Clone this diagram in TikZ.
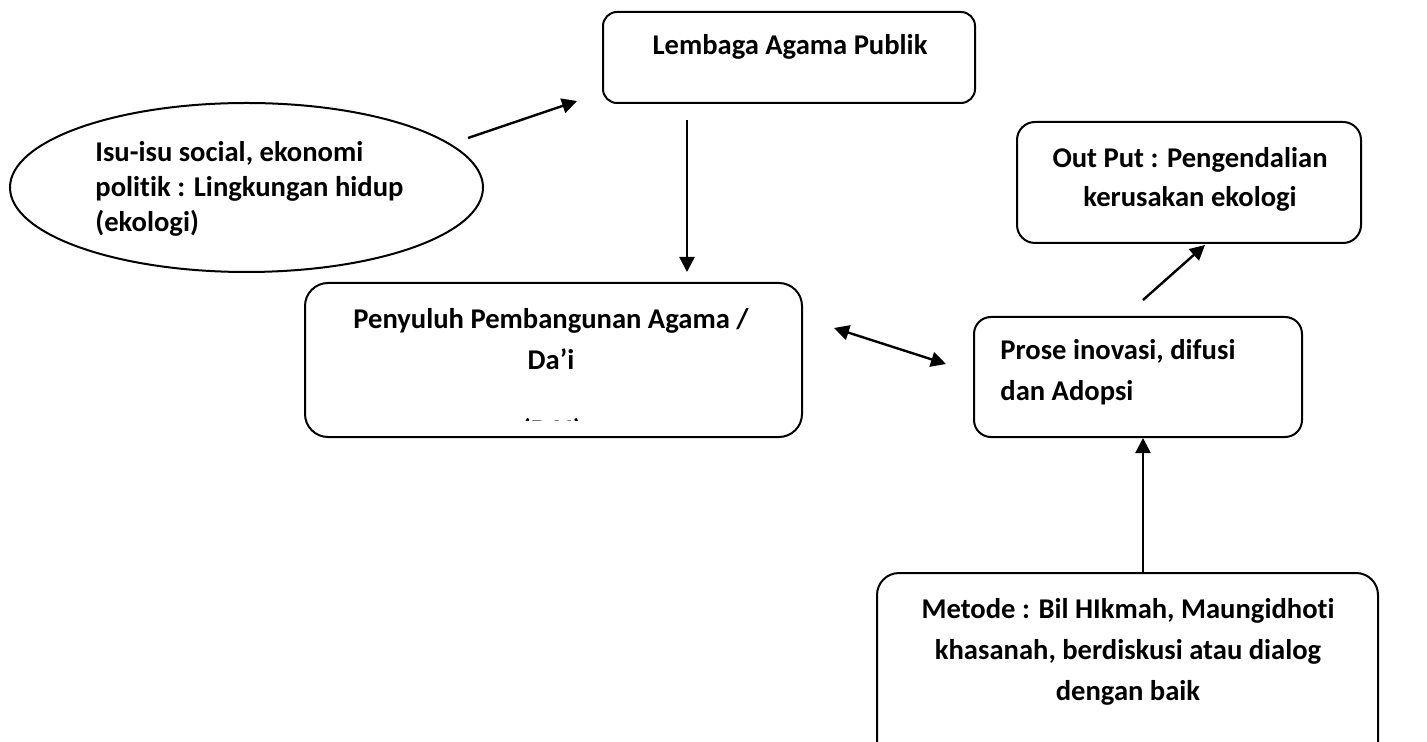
\documentclass[tikz,border=0pt]{standalone}
\usepackage{fontspec}
\setmainfont{Carlito}[Ligatures=NoCommon]
\usetikzlibrary{arrows.meta,shapes.geometric}
\begin{document}
\begin{tikzpicture}[x=0.5pt,y=-0.5pt,
  box/.style={draw=black,line width=1pt,inner sep=0pt},
  lbl/.style={inner sep=0pt,anchor=base,font=\fontsize{14.3}{20.5}\selectfont\bfseries},
  arr/.style={line width=1.2pt,-{Triangle[length=7.5pt,width=7.5pt]}},
  dblarr/.style={line width=1.2pt,{Triangle[length=7.5pt,width=7.5pt]}-{Triangle[length=7.5pt,width=7.5pt]}},
  ]
\useasboundingbox (0,0) rectangle (1427,742);
% boxes
\node[box,rounded corners=7pt,minimum width=186pt,minimum height=45.5pt] (lemb) at (789,57.5) {};
\node[box,ellipse,minimum width=236.5pt,minimum height=84.5pt] (ell) at (246.5,187.5) {};
\node[box,rounded corners=11.5pt,minimum width=248.5pt,minimum height=77pt] (pen) at (553.5,360) {};
\node[box,rounded corners=8.5pt,minimum width=164pt,minimum height=60pt] (pros) at (1138,377) {};
\node[box,rounded corners=9pt,minimum width=172pt,minimum height=60.5pt] (out) at (1189,182.5) {};
\node[box,rounded corners=11pt,minimum width=250.5pt,minimum height=113.5pt] (met) at (1127.5,686.5) {};
% texts
\node[lbl] (lembt) at (790,55) {Lembaga Agama Publik};
\node[lbl,anchor=base west] (ellt) at (95,162) {\fontsize{14.3}{17.5}\selectfont\begin{tabular}[t]{@{}l@{}}Isu-isu social, ekonomi\\ politik : Lingkungan hidup\\ (ekologi)\end{tabular}};
\node[lbl] (pent) at (551,329) {\begin{tabular}[t]{@{}c@{}}Penyuluh Pembangunan Agama /\\ Da’i\end{tabular}};
\begin{scope}
  \clip (306,284) rectangle (801,421);
  \node[lbl] (dai) at (552,439) {(DAI)};
\end{scope}
\node[lbl,anchor=base west] (prost) at (1000,360) {\begin{tabular}[t]{@{}l@{}}Prose inovasi, difusi\\ dan Adopsi\end{tabular}};
\node[lbl] (outt) at (1190,168) {\fontsize{14.3}{19.5}\selectfont\begin{tabular}[t]{@{}c@{}}Out Put : Pengendalian\\ kerusakan ekologi\end{tabular}};
\node[lbl] (mett) at (1128,618) {\begin{tabular}[t]{@{}c@{}}Metode : Bil HIkmah, Maungidhoti\\ khasanah, berdiskusi atau dialog\\ dengan baik\end{tabular}};
% connector end points
\coordinate (e1) at (468,138);
\coordinate (e2) at (577,101);
\coordinate (l1) at (687,120);
\coordinate (l2) at (687,272);
\coordinate (d1) at (834,328);
\coordinate (d2) at (946,364);
\coordinate (p1) at (1143,300);
\coordinate (p2) at (1205,245);
\coordinate (m1) at (1143,573);
\coordinate (m2) at (1143,438);
% connectors
\draw[arr] (e1) -- (e2);
\draw[arr] (l1) -- (l2);
\draw[dblarr] (d1) -- (d2);
\draw[arr] (p1) -- (p2);
\draw[arr] (m1) -- (m2);
\end{tikzpicture}
\end{document}
